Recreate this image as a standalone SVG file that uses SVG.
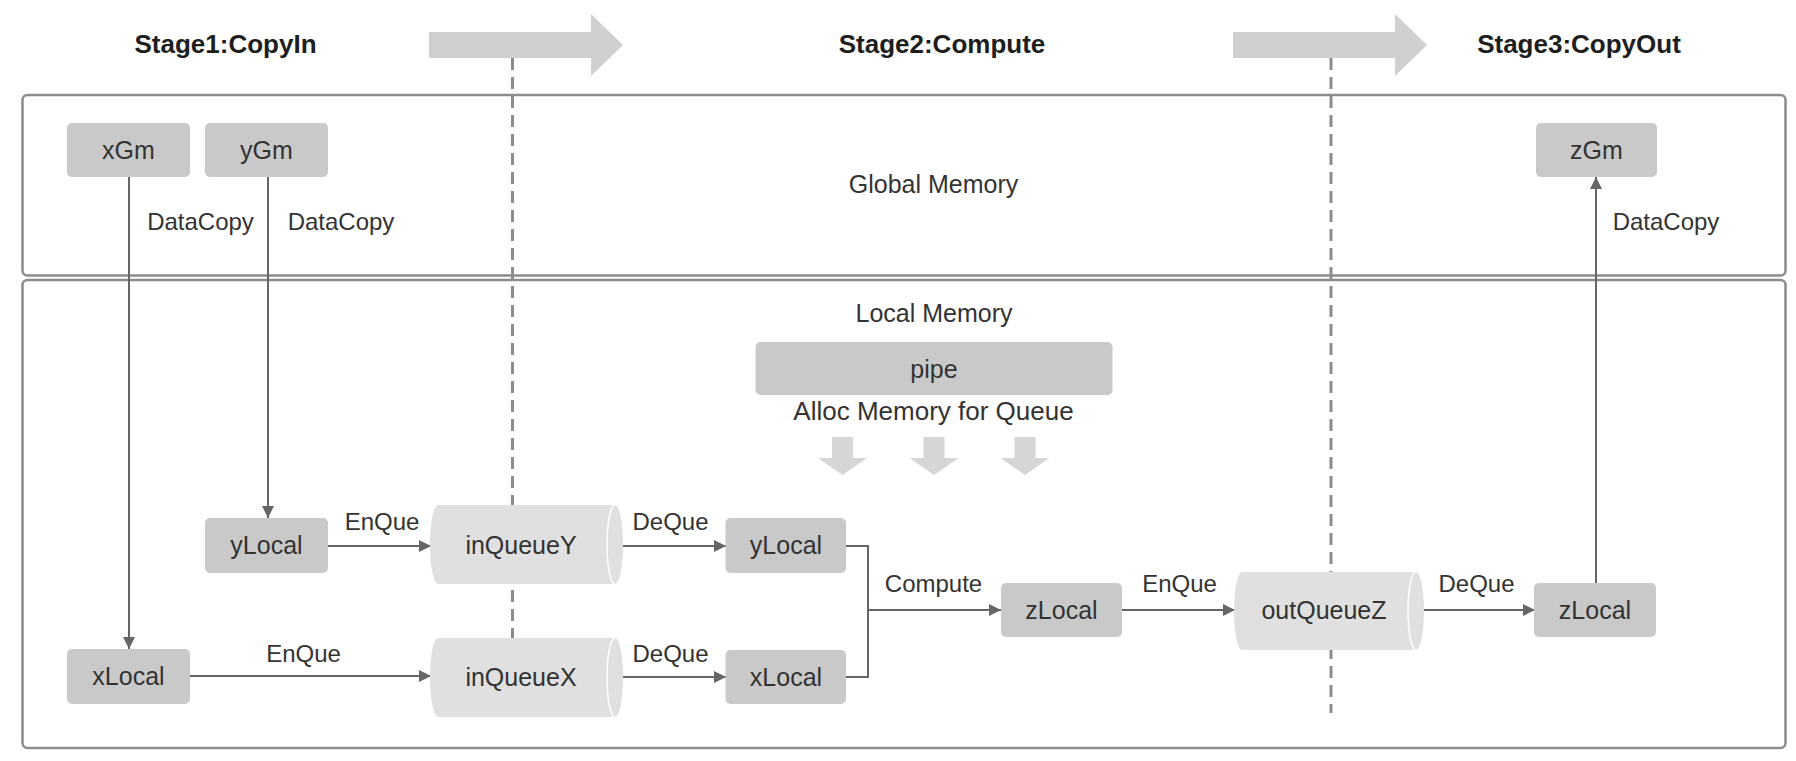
<svg xmlns="http://www.w3.org/2000/svg" width="1796" height="761" viewBox="0 0 1796 761">
<defs>
<style>
text{font-family:"Liberation Sans",Arial,sans-serif;fill:#333;text-anchor:middle}
.title{font-weight:bold;font-size:26px;fill:#1e1e1e}
.lbl{font-size:24px}
.nt{font-size:25px}
.panel{fill:#fff;stroke:#8c8c8c;stroke-width:2.5}
.node{fill:#c9c9c9}
.cyl{fill:#e0e0e0}
.cap{fill:none;stroke:#fff;stroke-width:1.5}
.conn{fill:none;stroke:#666;stroke-width:2}
.dash{stroke:#8c8c8c;stroke-width:3;stroke-dasharray:12 7}
.big{fill:#d0d0d0}
.down{fill:#d6d6d6}
</style>
<marker id="ah" viewBox="0 0 12 12" refX="12" refY="6" markerWidth="12" markerHeight="12" markerUnits="userSpaceOnUse" orient="auto">
<path d="M0,0 L12,6 L0,12 Z" fill="#666"/>
</marker>
</defs>

<g id="titles">
<text class="title" x="225.5" y="53">Stage1:CopyIn</text>
<text class="title" x="942" y="53">Stage2:Compute</text>
<text class="title" x="1579" y="53">Stage3:CopyOut</text>
<path class="big" d="M429,32 H591 V14 L623,45 L591,76 V58 H429 Z"/>
<path class="big" d="M1233,32 H1395 V14 L1427,45 L1395,76 V58 H1233 Z"/>
</g>

<g id="panels">
<rect id="global-memory" class="panel" x="22.5" y="95" width="1763" height="180.5" rx="5"/>
<rect id="local-memory" class="panel" x="22.5" y="280" width="1763" height="468" rx="5"/>
<text class="nt" x="933.5" y="193">Global Memory</text>
<text class="nt" x="934" y="322">Local Memory</text>
</g>

<g id="stage-dividers">
<line class="dash" x1="512.5" y1="58" x2="512.5" y2="660"/>
<line class="dash" x1="1331" y1="58" x2="1331" y2="713"/>
</g>

<g id="pipe">
<rect class="node" x="755.5" y="342" width="357" height="53" rx="5" fill="#d0d0d0"/>
<text class="nt" x="934" y="378">pipe</text>
<text class="nt" x="933.5" y="420" font-size="26" style="font-size:26px">Alloc Memory for Queue</text>
<path class="down" d="M832,437 H853 V458 H867 L842.5,475 L818,458 H832 Z"/>
<path class="down" d="M923.5,437 H944.5 V458 H958.5 L934,475 L909.5,458 H923.5 Z"/>
<path class="down" d="M1014.5,437 H1035.5 V458 H1049.5 L1025,475 L1000.5,458 H1014.5 Z"/>
</g>

<g id="connectors">
<line class="conn" x1="129" y1="177" x2="129" y2="649" marker-end="url(#ah)"/>
<line class="conn" x1="268" y1="177" x2="268" y2="518" marker-end="url(#ah)"/>
<line class="conn" x1="328" y1="546" x2="431" y2="546" marker-end="url(#ah)"/>
<line class="conn" x1="190" y1="676" x2="431" y2="676" marker-end="url(#ah)"/>
<line class="conn" x1="623" y1="546" x2="726" y2="546" marker-end="url(#ah)"/>
<line class="conn" x1="623" y1="677" x2="726" y2="677" marker-end="url(#ah)"/>
<path class="conn" d="M846,546 H868 V677 H846"/>
<line class="conn" x1="868" y1="610" x2="1001" y2="610" marker-end="url(#ah)"/>
<line class="conn" x1="1122" y1="610" x2="1235" y2="610" marker-end="url(#ah)"/>
<line class="conn" x1="1424" y1="610" x2="1535" y2="610" marker-end="url(#ah)"/>
<line class="conn" x1="1596" y1="583" x2="1596" y2="177" marker-end="url(#ah)"/>
<text class="lbl" x="200.5" y="230">DataCopy</text>
<text class="lbl" x="341" y="230">DataCopy</text>
<text class="lbl" x="1666" y="230">DataCopy</text>
<text class="lbl" x="382" y="530">EnQue</text>
<text class="lbl" x="303.5" y="662">EnQue</text>
<text class="lbl" x="670.5" y="530">DeQue</text>
<text class="lbl" x="670.5" y="662">DeQue</text>
<text class="lbl" x="933.5" y="592">Compute</text>
<text class="lbl" x="1179.5" y="592">EnQue</text>
<text class="lbl" x="1476.5" y="592">DeQue</text>
</g>

<g id="xGm"><rect class="node" x="67" y="123" width="123" height="54" rx="5"/><text class="nt" x="128.5" y="159">xGm</text></g>
<g id="yGm"><rect class="node" x="205" y="123" width="123" height="54" rx="5"/><text class="nt" x="266.5" y="159">yGm</text></g>
<g id="zGm"><rect class="node" x="1536" y="123" width="121" height="54" rx="5"/><text class="nt" x="1596.5" y="159">zGm</text></g>

<g id="yLocal-in"><rect class="node" x="205" y="518" width="123" height="55" rx="5"/><text class="nt" x="266.5" y="554">yLocal</text></g>
<g id="xLocal-in"><rect class="node" x="67" y="649" width="123" height="55" rx="5"/><text class="nt" x="128.5" y="685">xLocal</text></g>

<g id="inQueueY">
<path class="cyl" d="M438,505 H615 A8,39.5 0 0 1 615,584 H438 A8,39.5 0 0 1 438,505 Z"/>
<path class="cap" d="M615,505 A8,39.5 0 0 0 615,584"/>
<text class="nt" x="521" y="554">inQueueY</text>
</g>
<g id="inQueueX">
<path class="cyl" d="M438,638 H615 A8,39.5 0 0 1 615,717 H438 A8,39.5 0 0 1 438,638 Z"/>
<path class="cap" d="M615,638 A8,39.5 0 0 0 615,717"/>
<text class="nt" x="521" y="686">inQueueX</text>
</g>

<g id="yLocal-compute"><rect class="node" x="725.5" y="518" width="120.5" height="55" rx="5"/><text class="nt" x="786" y="554">yLocal</text></g>
<g id="xLocal-compute"><rect class="node" x="725.5" y="650" width="120.5" height="54" rx="5"/><text class="nt" x="786" y="686">xLocal</text></g>
<g id="zLocal-compute"><rect class="node" x="1001" y="583" width="121" height="54" rx="5"/><text class="nt" x="1061.5" y="619">zLocal</text></g>

<g id="outQueueZ">
<path class="cyl" d="M1242,572 H1416 A8,39 0 0 1 1416,650 H1242 A8,39 0 0 1 1242,572 Z"/>
<path class="cap" d="M1416,572 A8,39 0 0 0 1416,650"/>
<text class="nt" x="1324" y="619">outQueueZ</text>
</g>

<g id="zLocal-out"><rect class="node" x="1534" y="583" width="122" height="54" rx="5"/><text class="nt" x="1595" y="619">zLocal</text></g>
</svg>
